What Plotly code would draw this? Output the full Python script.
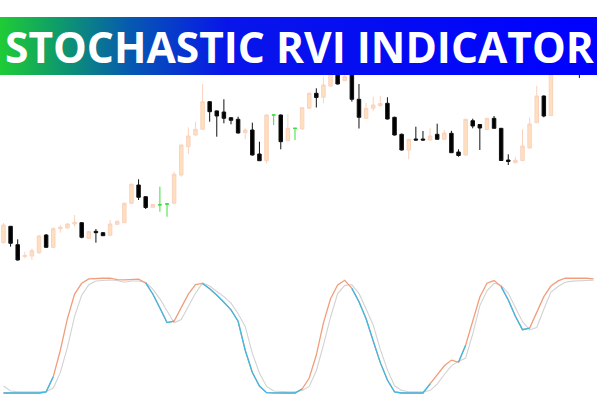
import plotly.graph_objects as go

# ---------------- data ----------------
open_ = [157.3, 173.7, 155.3, 143.5, 144.0, 147.3, 165.0, 152.7, 171.3, 172.0,
         176.0, 177.3, 161.7, 168.7, 167.3, 164.7, 175.7, 177.3, 196.7, 215.0,
         203.3, 192.7, 195.2, 196.0, 196.7, 225.0, 253.3, 265.0, 270.7, 298.3,
         289.1, 288.0, 282.3, 280.7, 267.3, 270.0, 246.0, 239.3, 285.0, 285.0,
         259.3, 271.7, 271.0, 291.7, 306.7, 302.7, 314.0, 334.0, 319.3, 328.0,
         300.7, 281.7, 291.7, 294.5, 296.7, 282.7, 265.7, 250.0, 261.0, 261.0,
         260.0, 265.7, 260.7, 266.7, 248.0, 245.0, 279.3, 275.5, 270.5, 281.7,
         271.7, 240.0, 237.3, 239.5, 252.0, 277.3, 304.0, 284.5, 328.0, 344.0,
         354.0, 342.0, 333.0, 344.0]
high = [177.0, 174.0, 160.7, 148.3, 151.3, 165.0, 166.0, 172.7, 175.0, 177.0,
        185.0, 178.0, 169.0, 171.0, 168.0, 180.0, 179.5, 197.5, 216.5, 220.7,
        204.0, 196.0, 213.3, 196.7, 228.3, 255.5, 272.7, 278.3, 316.0, 299.0,
        289.5, 300.7, 283.0, 283.3, 271.7, 277.3, 258.3, 285.5, 285.0, 285.5,
        286.0, 271.7, 293.0, 307.5, 311.7, 323.3, 334.0, 338.0, 328.0, 332.0,
        316.0, 297.3, 303.3, 304.0, 302.7, 283.3, 266.5, 261.0, 273.3, 269.0,
        271.7, 276.3, 270.0, 269.2, 250.7, 281.0, 281.3, 276.0, 282.0, 284.0,
        272.0, 245.7, 243.3, 270.7, 282.5, 314.2, 304.5, 335.0, 350.0, 360.0,
        358.0, 348.0, 350.0, 360.0]
low = [156.5, 153.3, 139.5, 141.7, 140.0, 146.0, 152.0, 152.0, 167.3, 171.5,
       173.3, 161.7, 161.0, 157.3, 164.0, 164.0, 175.3, 177.0, 196.0, 200.0,
       191.0, 192.5, 188.3, 183.3, 196.5, 223.3, 246.0, 264.5, 270.5, 278.3,
       263.3, 276.7, 275.7, 266.5, 260.7, 244.5, 239.0, 236.7, 275.0, 250.7,
       259.0, 260.0, 270.5, 291.5, 292.5, 296.7, 313.5, 315.5, 319.0, 298.3,
       271.5, 281.5, 289.0, 293.0, 280.5, 264.5, 249.5, 240.7, 259.3, 259.3,
       259.7, 260.3, 260.3, 247.0, 243.3, 244.5, 271.7, 250.0, 270.0, 271.3,
       239.0, 235.0, 236.7, 239.0, 251.5, 277.0, 282.7, 284.0, 327.0, 340.0,
       338.0, 322.0, 330.0, 342.0]
close = [175.0, 156.7, 140.0, 144.5, 149.3, 164.0, 152.7, 171.3, 172.7, 176.0,
         177.7, 162.7, 168.3, 167.3, 164.3, 176.0, 178.7, 196.7, 215.7, 202.7,
         192.5, 195.5, 195.2, 196.0, 225.8, 255.0, 264.0, 270.7, 298.3, 288.3,
         284.0, 281.7, 279.7, 267.0, 270.0, 245.0, 239.3, 285.0, 285.0, 258.3,
         271.7, 271.7, 292.3, 306.7, 302.5, 315.0, 330.0, 316.0, 323.3, 300.7,
         282.7, 291.7, 295.0, 296.5, 281.0, 265.0, 250.0, 260.7, 260.0, 260.0,
         264.0, 260.7, 267.0, 247.3, 244.5, 280.7, 274.0, 272.0, 281.7, 271.7,
         239.5, 238.5, 239.7, 254.0, 276.0, 304.0, 284.0, 330.0, 345.0, 355.0,
         342.0, 332.0, 345.0, 355.0]

# Stochastic RVI: main line and signal line (0-100)
rvi_main = [0.0, 0.0, 0.0, 0.0, 0.0, 0.0, 1.0, 14.2, 37.2, 64.8,
            86.0, 95.4, 99.2, 99.8, 99.8, 99.8, 98.5, 98.3, 98.8, 99.0,
            95.7, 86.1, 73.9, 61.2, 62.5, 74.6, 86.0, 94.2, 95.3, 90.7,
            85.2, 79.2, 72.3, 62.4, 37.2, 17.8, 6.1, 0.3, 0.0, 0.0,
            0.0, 0.0, 3.5, 13.0, 33.0, 61.0, 82.0, 94.0, 98.0, 91.0,
            79.4, 64.5, 45.0, 26.4, 11.3, 1.0, 0.0, 0.0, 0.0, 0.0,
            8.0, 15.9, 23.7, 28.6, 26.8, 41.5, 63.5, 83.5, 95.5, 97.8,
            92.5, 80.9, 66.8, 55.1, 56.4, 70.9, 83.8, 93.0, 97.5, 99.8,
            100.0, 100.0, 99.8, 99.2]
rvi_signal = [6.1, 1.8, 1.1, 1.1, 1.1, 1.1, 1.1, 4.3, 17.9, 39.8,
              66.6, 85.0, 94.1, 97.4, 97.9, 98.3, 97.8, 96.3, 97.4, 97.4,
              96.2, 90.3, 81.9, 71.7, 61.0, 63.9, 75.4, 86.7, 95.8, 93.0,
              88.3, 83.8, 78.1, 68.9, 57.9, 34.5, 17.3, 5.7, 1.7, 1.1,
              1.1, 1.1, 2.1, 5.7, 19.4, 41.6, 65.9, 86.5, 93.6, 94.1,
              86.6, 73.1, 59.1, 37.9, 20.1, 6.3, 2.3, 1.1, 1.1, 1.1,
              2.1, 7.7, 16.1, 23.6, 27.5, 30.4, 51.3, 76.0, 88.8, 95.4,
              93.8, 86.7, 74.4, 62.0, 54.8, 57.0, 72.8, 87.8, 92.6, 96.3,
              97.3, 97.7, 97.9, 98.1]

title_text = "STOCHASTIC RVI INDICATOR"

# ---------------- figure ----------------
idx = list(range(len(open_)))
bull = [i for i in idx if close[i] > open_[i]]
bear = [i for i in idx if close[i] < open_[i]]
doji = [i for i in idx if close[i] == open_[i]]

BULL_FILL, BULL_LINE = "#fee0bd", "#f9d2bf"
BEAR_FILL, BEAR_LINE = "#000000", "#111111"
DOJI_LINE = "#3ddd3d"

fig = go.Figure()


def add_candles(sel, fill, line):
    fig.add_trace(go.Candlestick(
        x=sel,
        open=[open_[i] for i in sel], high=[high[i] for i in sel],
        low=[low[i] for i in sel], close=[close[i] for i in sel],
        increasing=dict(fillcolor=fill, line=dict(color=line, width=1)),
        decreasing=dict(fillcolor=fill, line=dict(color=line, width=1)),
        whiskerwidth=0, showlegend=False, hoverinfo="skip",
        xaxis="x", yaxis="y"))


add_candles(bull, BULL_FILL, BULL_LINE)
add_candles(bear, BEAR_FILL, BEAR_LINE)
add_candles(doji, DOJI_LINE, DOJI_LINE)

# indicator panel
below = [m < s for m, s in zip(rvi_main, rvi_signal)]
blue_y = [rvi_main[i] if (below[i] or (i > 0 and below[i - 1])) else None for i in idx]

fig.add_trace(go.Scatter(x=idx, y=rvi_signal, mode="lines",
                         line=dict(color="#d2d2d2", width=1.1),
                         showlegend=False, hoverinfo="skip", xaxis="x", yaxis="y2"))
fig.add_trace(go.Scatter(x=idx, y=rvi_main, mode="lines",
                         line=dict(color="#f29d7c", width=1.3),
                         showlegend=False, hoverinfo="skip", xaxis="x", yaxis="y2"))
fig.add_trace(go.Scatter(x=idx, y=blue_y, mode="lines",
                         line=dict(color="#38bbea", width=1.3), connectgaps=False,
                         showlegend=False, hoverinfo="skip", xaxis="x", yaxis="y2"))

# title banner (gradient) on an overlay axis in pixel units
fig.add_trace(go.Scatter(
    x=[0, 597, 597, 0, 0], y=[17, 17, 75, 75, 17], mode="lines",
    fill="toself", line=dict(width=0),
    fillgradient=dict(type="horizontal",
                      colorscale=[[0.0, "#1fcc35"], [0.1, "#0e9a6c"],
                                  [0.22, "#0658b2"], [0.38, "#0815ea"],
                                  [1.0, "#0000fe"]]),
    showlegend=False, hoverinfo="skip", xaxis="x3", yaxis="y3"))

fig.add_annotation(text=title_text, xref="paper", yref="paper",
                   x=0.5, y=1 - 46.5 / 400, xanchor="center", yanchor="middle",
                   showarrow=False,
                   font=dict(family="Open Sans", size=42.5, color="white", weight=700))

hidden = dict(visible=False, showgrid=False, zeroline=False, fixedrange=True)
fig.update_layout(
    width=600, height=400,
    margin=dict(l=0, r=0, t=0, b=0),
    paper_bgcolor="white", plot_bgcolor="white",
    xaxis=dict(range=[-0.49, 83.9], rangeslider=dict(visible=False), **hidden),
    yaxis=dict(range=[0, 400], domain=[0, 1], **hidden),
    yaxis2=dict(range=[-2, 102], domain=[0.01175, 0.31075], anchor="x", **hidden),
    xaxis3=dict(range=[0, 600], overlaying="x", **hidden),
    yaxis3=dict(range=[400, 0], overlaying="y", **hidden),
    boxgap=0.3,
    showlegend=False,
)

fig.write_html("out.html", config={"displayModeBar": False},
               post_script="document.body.style.margin='0';document.body.style.overflow='hidden';")
